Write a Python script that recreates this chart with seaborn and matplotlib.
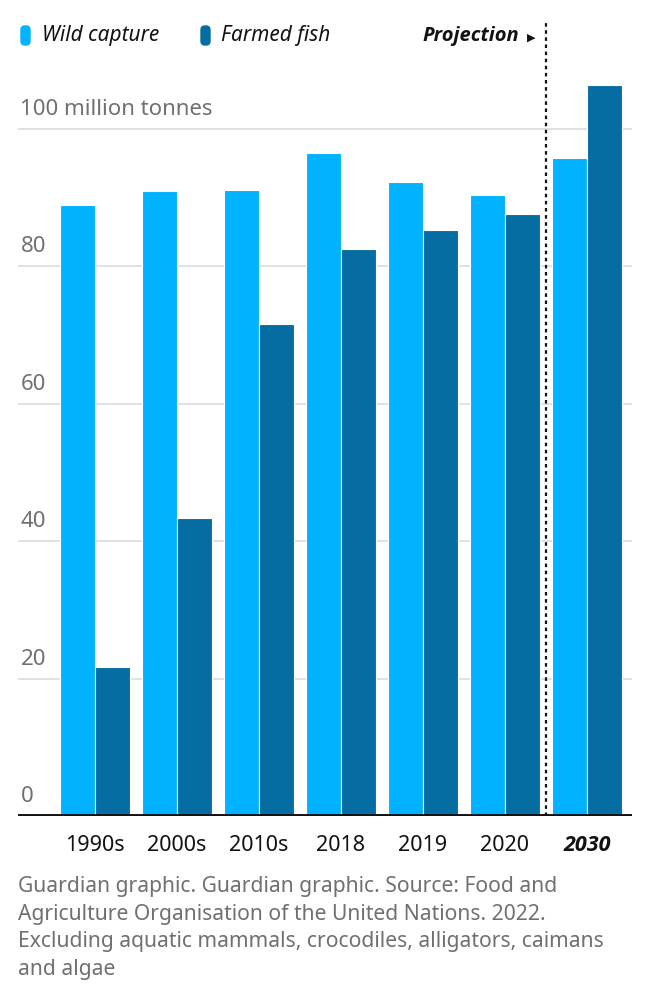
import matplotlib
matplotlib.use("Agg")
import matplotlib.pyplot as plt
import matplotlib.transforms as mtransforms
import seaborn as sns
import pandas as pd
from matplotlib.patches import FancyBboxPatch

periods = ["1990s", "2000s", "2010s", "2018", "2019", "2020", "2030"]
wild_capture = [88.9, 90.9, 91.0, 96.5, 92.2, 90.3, 95.7]
farmed_fish = [21.7, 43.3, 71.5, 82.5, 85.2, 87.5, 106.4]
series_names = ["Wild capture", "Farmed fish"]
y_ticks = [0, 20, 40, 60, 80, 100]
y_tick_labels = ["0", "20", "40", "60", "80", "100 million tonnes"]
footer = ("Guardian graphic. Guardian graphic. Source: Food and\n"
          "Agriculture Organisation of the United Nations. 2022.\n"
          "Excluding aquatic mammals, crocodiles, alligators, caimans\n"
          "and algae")

WILD = "#00b2ff"
FARM = "#056da1"
FONT = ["Noto Sans", "DejaVu Sans"]
BOLDFONT = ["Open Sans", "DejaVu Sans"]

df = pd.DataFrame({
    "period": periods * 2,
    "value": wild_capture + farmed_fish,
    "type": [series_names[0]] * len(periods) + [series_names[1]] * len(periods),
})

sns.set_theme(style="white")
plt.rcParams["font.family"] = FONT

W, H = 650, 998
fig = plt.figure(figsize=(W / 100, H / 100), dpi=100)
x0, x1 = 18, 632
ybot, ytop = 816, 59.75
ax = fig.add_axes([x0 / W, (H - ybot) / H, (x1 - x0) / W, (ybot - ytop) / H])

sns.barplot(data=df, x="period", y="value", hue="type",
            palette={series_names[0]: WILD, series_names[1]: FARM},
            saturation=1, width=0.86, edgecolor="white", linewidth=0.8,
            legend=False, ax=ax, zorder=3)

ax.set_ylim(0, 110)
ax.set_xlim(-0.94, 6.55)
for s in ax.spines.values():
    s.set_visible(False)
ax.set_xlabel("")
ax.set_ylabel("")
ax.set_yticks([])
for t in y_ticks[1:]:
    ax.axhline(t, color="#dcdcdc", lw=1.2, zorder=1)
ax.axhline(0, color="#121212", lw=2.8, zorder=5)

trans = mtransforms.blended_transform_factory(ax.transAxes, ax.transData)
for t, lab in zip(y_ticks, y_tick_labels):
    ax.text(0.004, t + 1.3, lab, transform=trans, ha="left", va="bottom",
            fontsize=16, color="#707070", zorder=2)

ax.tick_params(axis="x", length=0, pad=14, labelsize=15.5, labelcolor="#121212")
labels = ax.get_xticklabels()
labels[-1].set_fontweight("bold")
labels[-1].set_fontstyle("italic")
labels[-1].set_family(BOLDFONT)

# projection divider
ax.axvline(5.5, ymin=0, ymax=(ybot - 20) / (ybot - ytop), clip_on=False,
           color="#121212", lw=1.6, linestyle=(0, (1.6, 1.6)), zorder=6)

# legend
def pill(xp, color):
    p = FancyBboxPatch((xp / W, (H - 45) / H), 9 / W, 19 / H,
                       boxstyle="round,pad=0,rounding_size=0.006",
                       transform=fig.transFigure, color=color, mutation_aspect=W / H)
    fig.patches.append(p)

pill(21, WILD)
fig.text(42 / W, 1 - 36 / H, series_names[0], fontsize=15, style="italic",
         color="#121212", va="center", ha="left")
pill(201, FARM)
fig.text(221 / W, 1 - 36 / H, series_names[1], fontsize=15, style="italic",
         color="#121212", va="center", ha="left")
fig.text(519 / W, 1 - 36 / H, "Projection", fontsize=14.5, style="italic",
         fontweight="bold", color="#121212", va="center", ha="right",
         family=BOLDFONT)
fig.text(527 / W, 1 - 38 / H, "\u25B6", fontsize=8, color="#121212",
         va="center", ha="left", family=["DejaVu Sans"])

fig.text(18 / W, 1 - 876 / H, footer, fontsize=15.2, color="#707070",
         va="top", ha="left", linespacing=1.42)

fig.savefig("out.png", dpi=100, facecolor="white")
